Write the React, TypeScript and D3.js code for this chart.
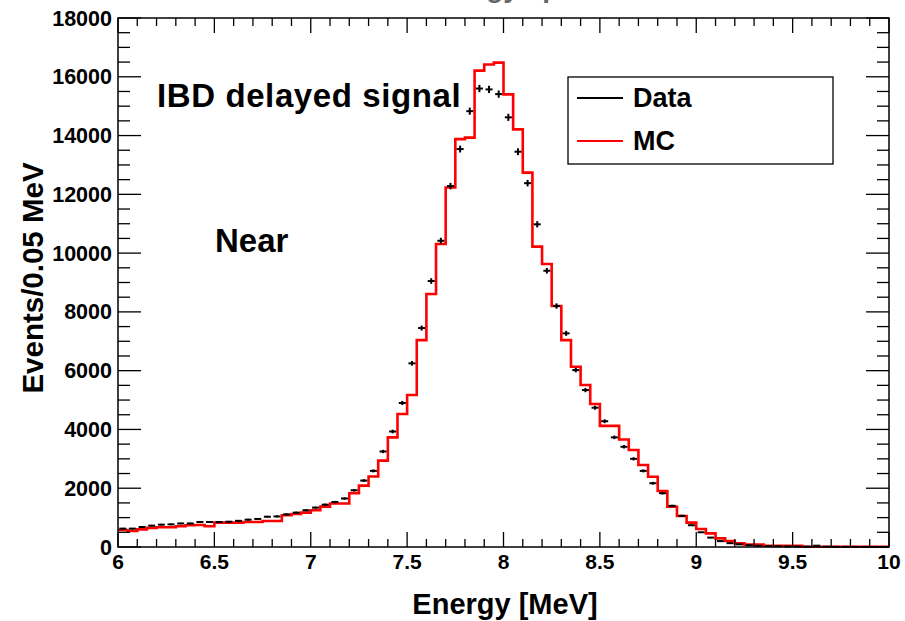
import { useEffect, useRef } from 'react';
import * as d3 from 'd3';

// 80 bins of 0.05 MeV between 6 and 10 MeV
const binLow = 6;
const binWidth = 0.05;

const dataCounts = [
  625, 625, 680, 727, 760, 770, 800, 800, 850, 850,
  850, 860, 890, 930, 955, 1030, 1040, 1110, 1170, 1250,
  1340, 1440, 1530, 1650, 1930, 2260, 2590, 3250, 3930, 4900,
  6250, 7450, 9050, 10420, 12280, 13540, 14830, 15600, 15570, 15410,
  14620, 13450, 12380, 10980, 9400, 8200, 7270, 6020, 5340, 4740,
  4280, 3730, 3410, 3000, 2590, 2170, 1830, 1400, 1060, 740,
  500, 320, 200, 130, 90, 60, 40, 30, 25, 20,
  15, 12, 45, 8, 6, 5, 4, 3, 3, 2,
];

const mcCounts = [
  580, 545, 600, 650, 670, 670, 705, 740, 750, 705,
  830, 830, 830, 850, 850, 885, 885, 1080, 1125, 1170,
  1250, 1375, 1480, 1480, 1830, 2090, 2400, 2940, 3730, 4525,
  5170, 7040, 8610, 10310, 12230, 13880, 13930, 16210, 16420, 16480,
  15400, 14210, 12740, 10220, 9630, 8200, 7040, 6135, 5510, 4865,
  4120, 4120, 3660, 3300, 2790, 2390, 1905, 1370, 1055, 830,
  610, 465, 295, 205, 125, 80, 80, 45, 45, 45,
  45, 8, 8, 8, 8, 8, 8, 8, 8, 8,
];

const xTickLabels = ['6', '6.5', '7', '7.5', '8', '8.5', '9', '9.5', '10'];
const yTickLabels = ['0', '2000', '4000', '6000', '8000', '10000', '12000', '14000', '16000', '18000'];
const legendNames = ['Data', 'MC'];
const legendColors = ['#000000', '#ff0000'];

const FONT = '"Liberation Sans", Arial, Helvetica, sans-serif';

const App = () => {
  const svgRef = useRef<SVGSVGElement>(null);

  useEffect(() => {
    const width = 905;
    const height = 621;
    const left = 118, right = 889, top = 18, bottom = 547;

    const x = d3.scaleLinear().domain([6, 10]).range([left, right]);
    const y = d3.scaleLinear().domain([0, 18000]).range([bottom, top]);

    const svg = d3.select(svgRef.current)
      .attr('width', width)
      .attr('height', height);
    svg.selectAll('*').remove();

    svg.append('rect').attr('width', width).attr('height', height).attr('fill', 'white');

    // title, cut off at the top edge as in the original
    svg.append('text')
      .attr('x', 424).attr('y', -3)
      .attr('font-family', FONT).attr('font-weight', 'bold').attr('font-size', 28)
      .attr('fill', '#666')
      .text('Energy spectrum');

    // MC histogram
    const mcPoints: [number, number][] = mcCounts.map((v, i) => [binLow + i * binWidth, v]);
    mcPoints.push([10, mcCounts[mcCounts.length - 1]]);
    const step = d3.line<[number, number]>()
      .x(d => x(d[0]))
      .y(d => y(d[1]))
      .curve(d3.curveStepAfter);

    svg.append('path')
      .attr('d', step(mcPoints))
      .attr('fill', 'none')
      .attr('stroke', '#ff0000')
      .attr('stroke-width', 2.6);

    // data points with error bars
    const pts = svg.append('g').attr('stroke', 'black').attr('stroke-width', 2);
    dataCounts.forEach((v, i) => {
      const cx = x(binLow + (i + 0.5) * binWidth);
      const err = Math.sqrt(v);
      pts.append('line')
        .attr('x1', cx - 3.5).attr('x2', cx + 3.5)
        .attr('y1', y(v)).attr('y2', y(v));
      pts.append('line')
        .attr('x1', cx).attr('x2', cx)
        .attr('y1', y(v - err)).attr('y2', y(v + err));
    });

    // frame
    svg.append('rect')
      .attr('x', left).attr('y', top)
      .attr('width', right - left).attr('height', bottom - top)
      .attr('fill', 'none').attr('stroke', 'black').attr('stroke-width', 1.5);

    const ticks = svg.append('g').attr('stroke', 'black').attr('stroke-width', 1.3);

    // x ticks: major 0.5, minor 0.1
    d3.range(0, 41).forEach(k => {
      const v = 6 + k * 0.1;
      const major = k % 5 === 0;
      const len = major ? 15 : 8;
      ticks.append('line').attr('x1', x(v)).attr('x2', x(v)).attr('y1', bottom).attr('y2', bottom - len);
      ticks.append('line').attr('x1', x(v)).attr('x2', x(v)).attr('y1', top).attr('y2', top + len);
    });

    // y ticks: major 2000, minor 500
    d3.range(0, 37).forEach(k => {
      const v = k * 500;
      const major = k % 4 === 0;
      const len = major ? 23 : 12;
      ticks.append('line').attr('x1', left).attr('x2', left + len).attr('y1', y(v)).attr('y2', y(v));
      ticks.append('line').attr('x1', right).attr('x2', right - len).attr('y1', y(v)).attr('y2', y(v));
    });

    svg.append('g')
      .selectAll('text')
      .data(xTickLabels)
      .join('text')
      .attr('x', d => x(+d))
      .attr('y', 569)
      .attr('text-anchor', 'middle')
      .attr('font-family', FONT).attr('font-weight', 'bold').attr('font-size', 21)
      .text(d => d);

    svg.append('g')
      .selectAll('text')
      .data(yTickLabels)
      .join('text')
      .attr('x', 112)
      .attr('y', d => y(+d) + 7.5)
      .attr('text-anchor', 'end')
      .attr('font-family', FONT).attr('font-weight', 'bold').attr('font-size', 21.5)
      .text(d => d);

    // axis titles
    svg.append('text')
      .attr('x', 505).attr('y', 614)
      .attr('text-anchor', 'middle')
      .attr('font-family', FONT).attr('font-weight', 'bold').attr('font-size', 29)
      .text('Energy [MeV]');

    svg.append('text')
      .attr('transform', 'translate(43,278) rotate(-90)')
      .attr('text-anchor', 'middle')
      .attr('font-family', FONT).attr('font-weight', 'bold').attr('font-size', 29.5)
      .text('Events/0.05 MeV');

    // labels inside the pad
    svg.append('text')
      .attr('x', 157).attr('y', 107)
      .attr('font-family', FONT).attr('font-weight', 'bold').attr('font-size', 33)
      .attr('letter-spacing', 0.6)
      .text('IBD delayed signal');

    svg.append('text')
      .attr('x', 215).attr('y', 252)
      .attr('font-family', FONT).attr('font-weight', 'bold').attr('font-size', 33)
      .text('Near');

    // legend
    const lg = svg.append('g');
    lg.append('rect')
      .attr('x', 568).attr('y', 77).attr('width', 265).attr('height', 87)
      .attr('fill', 'white').attr('stroke', 'black').attr('stroke-width', 1.3);
    legendNames.forEach((name, i) => {
      const ly = 98 + i * 43;
      lg.append('line')
        .attr('x1', 577).attr('x2', 623).attr('y1', ly).attr('y2', ly)
        .attr('stroke', legendColors[i]).attr('stroke-width', 2);
      lg.append('text')
        .attr('x', 633).attr('y', ly + 9)
        .attr('font-family', FONT).attr('font-weight', 'bold').attr('font-size', 27)
        .text(name);
    });
  }, []);

  return <svg ref={svgRef} style={{ position: 'absolute', left: 0, top: 0 }}></svg>;
};

export default App;
